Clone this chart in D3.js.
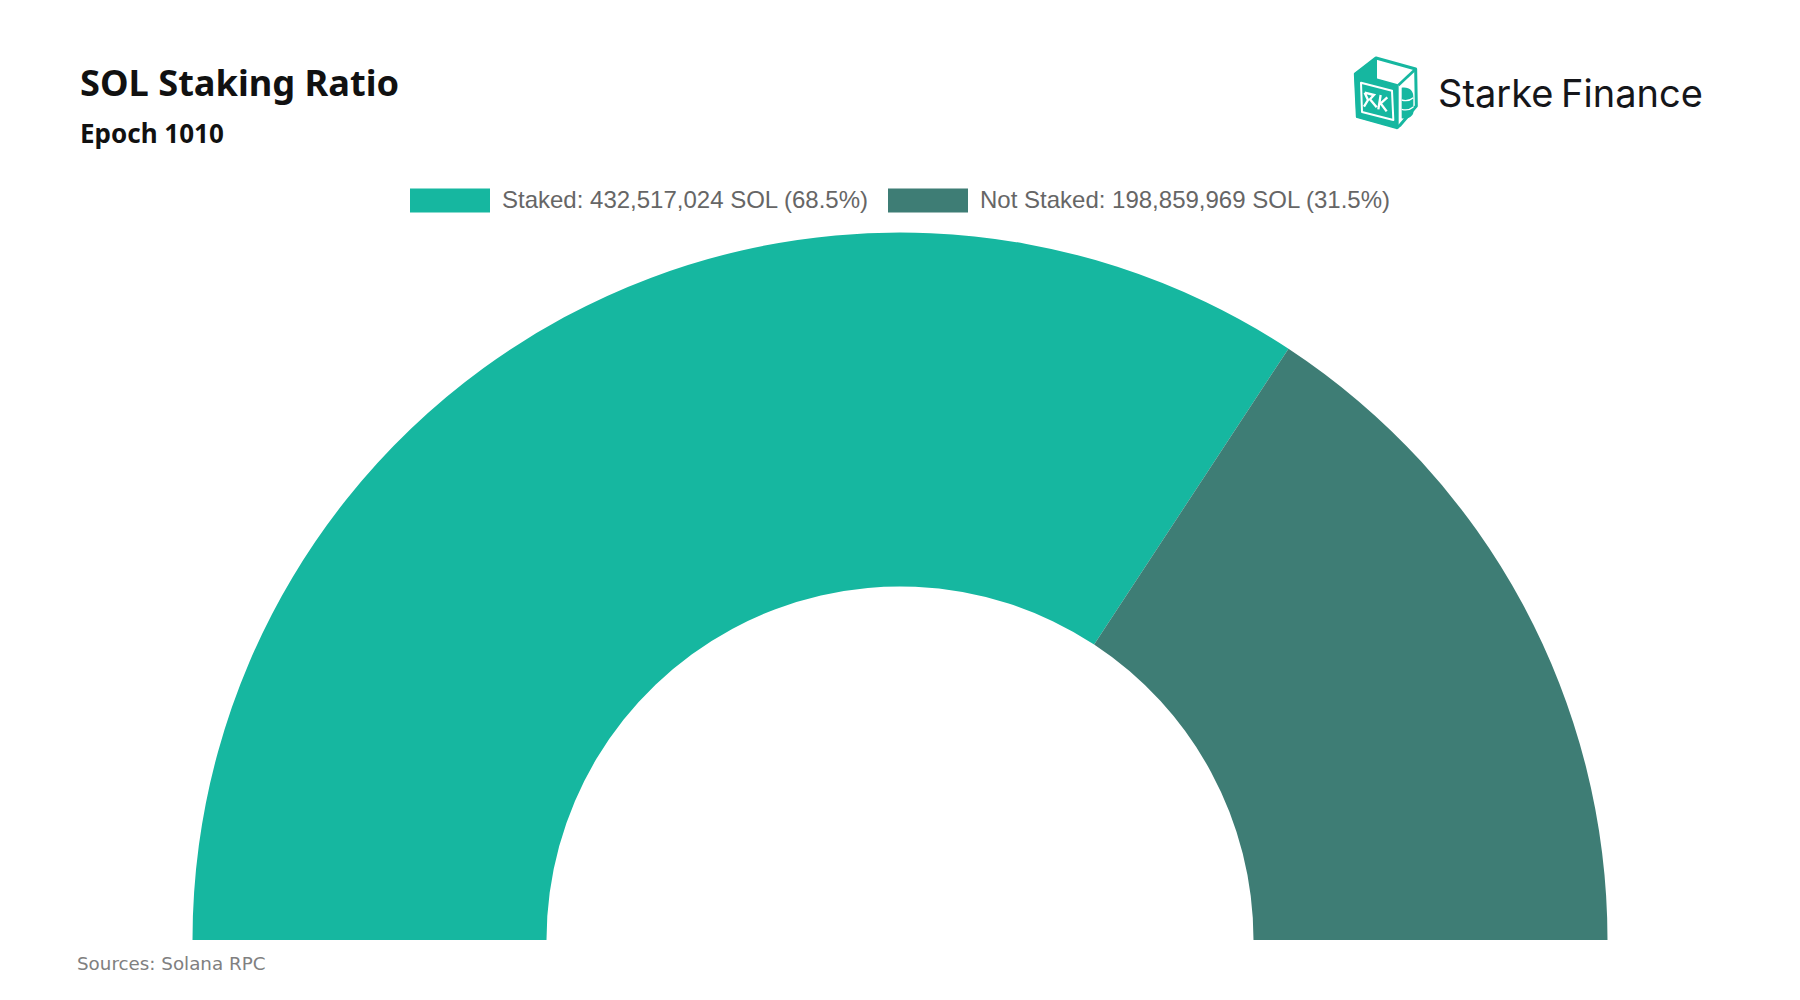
<!DOCTYPE html>
<html lang="en">
<head>
    <meta charset="UTF-8">
    <title>SOL Staking Ratio</title>
    <script src="https://cdnjs.cloudflare.com/ajax/libs/d3/7.9.0/d3.min.js"></script>
    <style>
        html, body { margin: 0; padding: 0; background: #fff; }
    </style>
</head>
<body>
<svg id="chart" width="1800" height="1000"></svg>
<script>
    const categories = ["Staked", "Not Staked"];
    const stakedValues = [432517024, 198859969];
    const legendLabels = ["Staked: 432,517,024 SOL (68.5%)", "Not Staked: 198,859,969 SOL (31.5%)"];
    const colors = ["#16b7a0", "#3e7d75"];

    const svg = d3.select("#chart");
    svg.append("rect").attr("width", 1800).attr("height", 1000).attr("fill", "#fff");

    // half donut
    const cx = 900, cy = 940, outer = 707.5, inner = 353.5;
    const pie = d3.pie().sort(null).startAngle(-Math.PI / 2).endAngle(Math.PI / 2);
    const arc = d3.arc().innerRadius(inner).outerRadius(outer);

    svg.append("g")
        .attr("transform", `translate(${cx},${cy})`)
        .selectAll("path")
        .data(pie(stakedValues))
        .enter().append("path")
        .attr("d", arc)
        .attr("fill", (d, i) => colors[i]);

    // titles
    svg.append("text").attr("x", 80).attr("y", 95.7)
        .attr("font-family", "Noto Sans").attr("font-weight", 700).attr("font-size", 36.2)
        .attr("fill", "#111").text("SOL Staking Ratio");
    svg.append("text").attr("x", 80).attr("y", 143)
        .attr("font-family", "Noto Sans").attr("font-weight", 700).attr("font-size", 26)
        .attr("fill", "#111").text("Epoch 1010");

    // legend
    const legendX = [410, 888];
    const legend = svg.append("g").selectAll("g").data(categories).enter().append("g");
    legend.append("rect")
        .attr("x", (d, i) => legendX[i]).attr("y", 188.5)
        .attr("width", 80).attr("height", 24)
        .attr("fill", (d, i) => colors[i]);
    legend.append("text")
        .attr("x", (d, i) => legendX[i] + 92).attr("y", 208)
        .attr("font-family", "Liberation Sans").attr("font-size", 24)
        .attr("fill", "#666").text((d, i) => legendLabels[i]);

    // source
    svg.append("text").attr("x", 77).attr("y", 970)
        .attr("font-family", "DejaVu Sans").attr("font-size", 18.3)
        .attr("fill", "#808080").text("Sources: Solana RPC");

    // logo, drawn in 3x crop units
    const logo = svg.append("g").attr("transform", "translate(1350,50) scale(0.3333)");
    const teal = "#16b7a0";
    const line = d3.line().curve(d3.curveLinearClosed);
    logo.append("path")
        .attr("d", line([[16, 72], [78, 24], [197, 57], [199, 168], [150, 226], [140, 233], [22, 200]]))
        .attr("fill", "#fff").attr("stroke", teal).attr("stroke-width", 9).attr("stroke-linejoin", "round");
    logo.append("path")
        .attr("d", line([[16, 72], [78, 26], [78, 88], [143, 106], [143, 233], [22, 200]]))
        .attr("fill", teal).attr("stroke", teal).attr("stroke-width", 6).attr("stroke-linejoin", "round");
    logo.append("path")
        .attr("d", "M145,106L197,57").attr("stroke", teal).attr("stroke-width", 8).attr("fill", "none");
    logo.append("path")
        .attr("d", line([[33, 98], [126, 122], [130, 210], [36, 186]]))
        .attr("fill", "none").attr("stroke", "#fff").attr("stroke-width", 6).attr("stroke-linejoin", "round");
    logo.append("path")
        .attr("d", "M44,128L72,135L60,148L80,172M44,128L54,150L42,170M112,142L92,160L110,184M92,135L85,178")
        .attr("fill", "none").attr("stroke", "#fff").attr("stroke-width", 7);
    logo.append("path")
        .attr("d", "M155,113C178,110 190,122 190,140L190,188C188,200 172,208 155,205Z")
        .attr("fill", teal);
    logo.append("path")
        .attr("d", "M155,150C170,154 182,150 190,143M155,178C170,182 182,178 190,171")
        .attr("fill", "none").attr("stroke", "#fff").attr("stroke-width", 4);

    svg.append("text").attr("x", 1438).attr("y", 107)
        .attr("font-family", "Inter").attr("font-size", 38)
        .attr("word-spacing", -3)
        .attr("fill", "#15161a").text("Starke Finance");
</script>
</body>
</html>
